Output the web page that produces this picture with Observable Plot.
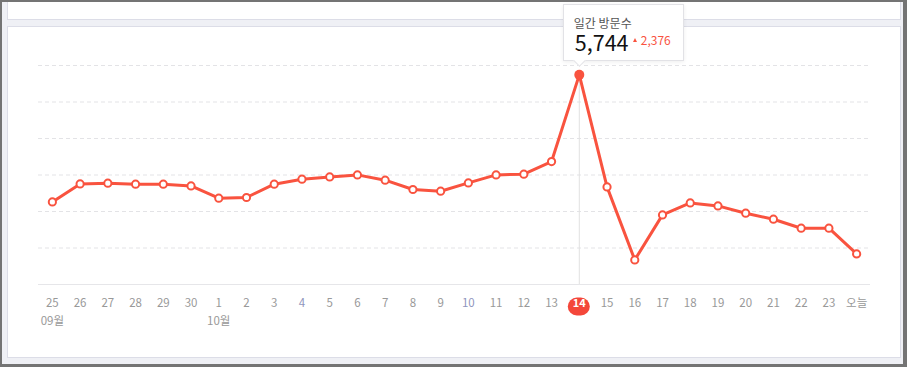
<!DOCTYPE html>
<html>
<head>
<meta charset="utf-8">
<script src="https://cdn.jsdelivr.net/npm/d3@7"></script>
<script src="https://cdn.jsdelivr.net/npm/@observablehq/plot@0.6"></script>
<style>
  html, body { margin: 0; padding: 0; }
  body { width: 907px; height: 367px; position: relative; overflow: hidden; background: #eff0f5;
         font-family: "Noto Sans CJK KR", "Noto Sans", sans-serif; }
  .card { position: absolute; background: #fff; border: 1px solid #dcdde7; box-sizing: border-box; }
  #frame { position: absolute; left: 0; top: 0; width: 907px; height: 367px; box-sizing: border-box;
           border-style: solid; border-color: #747474; border-width: 2px 4px 3px 2px; pointer-events: none; z-index: 5; }
  #chart { position: absolute; left: 0; top: 0; width: 907px; height: 367px; }
  #chart svg { width: 907px; height: 367px; max-width: none; }
  #tip { position: absolute; background: #fff; border: 1px solid #e2e2e6; box-sizing: border-box;
         box-shadow: 0 1px 4px rgba(0,0,0,0.07); z-index: 3; }
  #tip span { position: absolute; white-space: nowrap; }
  #tip .arrow { position: absolute; width: 8px; height: 8px; background: #fff; border-right: 1px solid #e2e2e6;
                border-bottom: 1px solid #e2e2e6; transform: rotate(45deg); }
</style>
</head>
<body>
<div class="card" style="left:7px; top:-1px; width:894px; height:21px;"></div>
<div class="card" style="left:7px; top:26px; width:894px; height:332px;"></div>
<div id="chart"></div>
<div id="frame"></div>
<script>
// ---- data ----
const days = ["25","26","27","28","29","30","1","2","3","4","5","6","7","8","9","10","11","12","13","14","15","16","17","18","19","20","21","22","23","오늘"];
const visits = [2263,2756,2775,2748,2748,2701,2364,2384,2748,2885,2948,3003,2858,2603,2556,2784,3003,3022,3368,5744,2674,674,1907,2236,2153,1953,1789,1542,1542,838];
const monthLabels = ["09월","10월"];
const monthStartDays = ["25","1"];
const highlightDay = "14";
const blueDays = ["4","10"];
const yTicks = [1000,2000,3000,4000,5000,6000];
const tipTitle = "일간 방문수";
const tipValue = "5,744";
const tipChange = "2,376";

// table: index position for each day
const data = days.map((d, i) => ({i, day: d, visits: visits[i]}));
const idx = d => days.indexOf(d);
const months = monthLabels.map((m, i) => ({i: idx(monthStartDays[i]), label: m}));
const peak = data.filter(d => d.day === highlightDay);
const others = data.filter(d => d.day !== highlightDay);
const plainLabels = data.filter(d => d.day !== highlightDay && !blueDays.includes(d.day));
const blueLabels = data.filter(d => blueDays.includes(d.day));

const red = "#f9533f";
const font = "'Noto Sans CJK KR', 'Noto Sans', sans-serif";

const chart = Plot.plot({
  width: 907,
  height: 367,
  marginLeft: 38,
  marginRight: 37,
  marginTop: 65,
  marginBottom: 83,
  style: {background: "transparent", overflow: "visible", fontFamily: font},
  x: {type: "linear", domain: [-0.5, days.length - 0.5], axis: null},
  y: {domain: [0, 6000], axis: null},
  marks: [
    Plot.ruleY(yTicks, {stroke: "#e3e3e6", strokeDasharray: "4,3"}),
    Plot.ruleY([0], {stroke: "#e6e6e9"}),
    Plot.ruleX(peak, {x: "i", y1: 0, y2: "visits", stroke: "#e2e2e2"}),
    Plot.line(data, {x: "i", y: "visits", stroke: red, strokeWidth: 3, strokeLinejoin: "round"}),
    Plot.dot(others, {x: "i", y: "visits", r: 3.6, fill: "#fff", stroke: red, strokeWidth: 2}),
    Plot.dot(peak, {x: "i", y: "visits", r: 5, fill: red}),
    Plot.text(plainLabels, {x: "i", text: "day", frameAnchor: "bottom", dy: 22, fill: "#999", fontSize: 11.5}),
    Plot.text(blueLabels, {x: "i", text: "day", frameAnchor: "bottom", dy: 22, fill: "#8f95bd", fontSize: 11.5}),
    (index, scales, values, dimensions) => {
      const cx = scales.x(idx(highlightDay));
      const y0 = dimensions.height - dimensions.marginBottom;
      const g = d3.create("svg:g");
      g.append("rect").attr("x", cx - 11).attr("y", y0 + 13.5).attr("width", 22).attr("height", 18)
        .attr("rx", 9).attr("fill", "#f4473a");
      return g.node();
    },
    Plot.text(peak, {x: "i", text: "day", frameAnchor: "bottom", dy: 22.5, fill: "#fff", fontSize: 11, fontWeight: "bold"}),
    Plot.text(months, {x: "i", text: "label", frameAnchor: "bottom", dy: 40, fill: "#999", fontSize: 11.5})
  ]
});
document.getElementById("chart").appendChild(chart);

// tooltip positioned from the chart's own scales
const px = chart.scale("x").apply(idx(highlightDay));
const tip = document.createElement("div");
tip.id = "tip";
const left = px - 16;
tip.style.left = left + "px";
tip.style.top = "4px";
tip.style.width = "121px";
tip.style.height = "57px";
tip.innerHTML = `
  <div class="arrow" style="left:${px - left - 5}px; top:51px;"></div>
  <span style="left:10px; top:11.5px; font-size:12px; line-height:12px; color:#555;">${tipTitle}</span>
  <span style="left:11px; top:26px; font-size:21.5px; line-height:21.5px; color:#111; font-weight:400;">${tipValue}</span>
  <span style="left:69.5px; top:32.5px; width:0; height:0; border-left:2.5px solid transparent; border-right:2.5px solid transparent; border-bottom:4px solid ${red};"></span>
  <span style="left:77px; top:28.5px; font-size:12px; line-height:12px; color:${red};">${tipChange}</span>`;
document.body.appendChild(tip);
</script>
</body>
</html>
